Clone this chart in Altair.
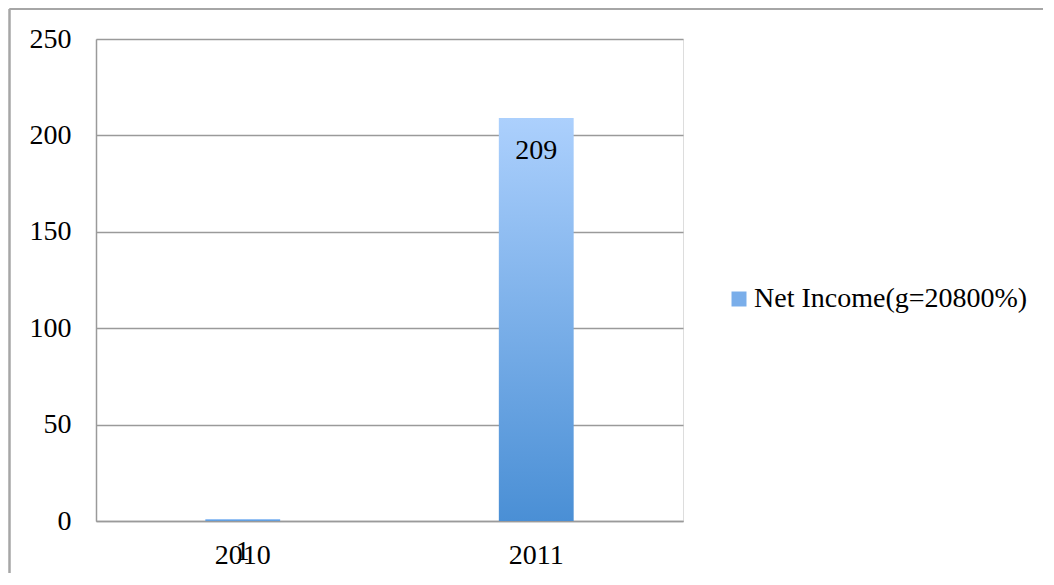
import altair as alt
import pandas as pd

years = ["2010", "2011"]
net_income = [1, 209]
series_name = "Net Income(g=20800%)"
y_ticks = [0, 50, 100, 150, 200, 250]

df = pd.DataFrame({"year": years, "value": net_income, "series": [series_name] * len(years)})

FONT = "Liberation Serif"
GRID = "#9a9a9a"
FRAME = "#a6a6a6"

grad = alt.Gradient(
    gradient="linear",
    stops=[alt.GradientStop(color="#acd0fd", offset=0), alt.GradientStop(color="#4a8fd5", offset=1)],
    x1=0, x2=0, y1=0, y2=1,
)

x_enc = alt.X("year:N", sort=years,
              scale=alt.Scale(paddingInner=0.745, paddingOuter=0.3725),
              axis=alt.Axis(title=None, labelAngle=0, ticks=False, labelPadding=20,
                            domainColor=GRID, domainWidth=1.5, labelFont=FONT,
                            labelFontSize=28, labelColor="#000000"))
y_enc = alt.Y("value:Q", scale=alt.Scale(domain=[0, 250], nice=False),
              axis=alt.Axis(title=None, values=y_ticks, ticks=False, labelPadding=25,
                            grid=True, gridColor=GRID, gridWidth=1.5,
                            domainColor=GRID, domainWidth=1.5, labelFont=FONT,
                            labelFontSize=28, labelColor="#000000"))

frame_top = alt.Chart().mark_rule(stroke=FRAME, strokeWidth=2).encode(
    x=alt.value(-86.5), x2=alt.value(1300), y=alt.value(-30)
)
frame_left = alt.Chart().mark_rule(stroke=FRAME, strokeWidth=2).encode(
    x=alt.value(-86.5), y=alt.value(-30), y2=alt.value(900)
)

bars = alt.Chart(df).mark_bar(fill=grad).encode(
    x=x_enc,
    y=y_enc,
    color=alt.Color("series:N",
                    scale=alt.Scale(range=["#7aaeea"]),
                    legend=alt.Legend(title=None, orient="none", legendX=629, legendY=246,
                                      symbolType="square", symbolSize=225,
                                      symbolFillColor="#7aaeea", symbolStrokeWidth=0,
                                      labelFont=FONT, labelFontSize=28, labelColor="#000000",
                                      labelLimit=500, labelOffset=1)),
)

labels = alt.Chart(df).mark_text(baseline="middle", dy=33, font=FONT, fontSize=28,
                                 color="#000000").encode(
    x=alt.X("year:N", sort=years), y="value:Q", text="value:Q"
)

chart = alt.layer(frame_top, frame_left, bars, labels, data=df).properties(
    width=587, height=482,
    autosize=alt.AutoSizeParams(type="none"),
    padding={"left": 88, "top": 31, "right": 360, "bottom": 52},
).configure_view(stroke=None).configure(background="white")

chart.save("out.html", embed_options={"renderer": "svg", "actions": False})
